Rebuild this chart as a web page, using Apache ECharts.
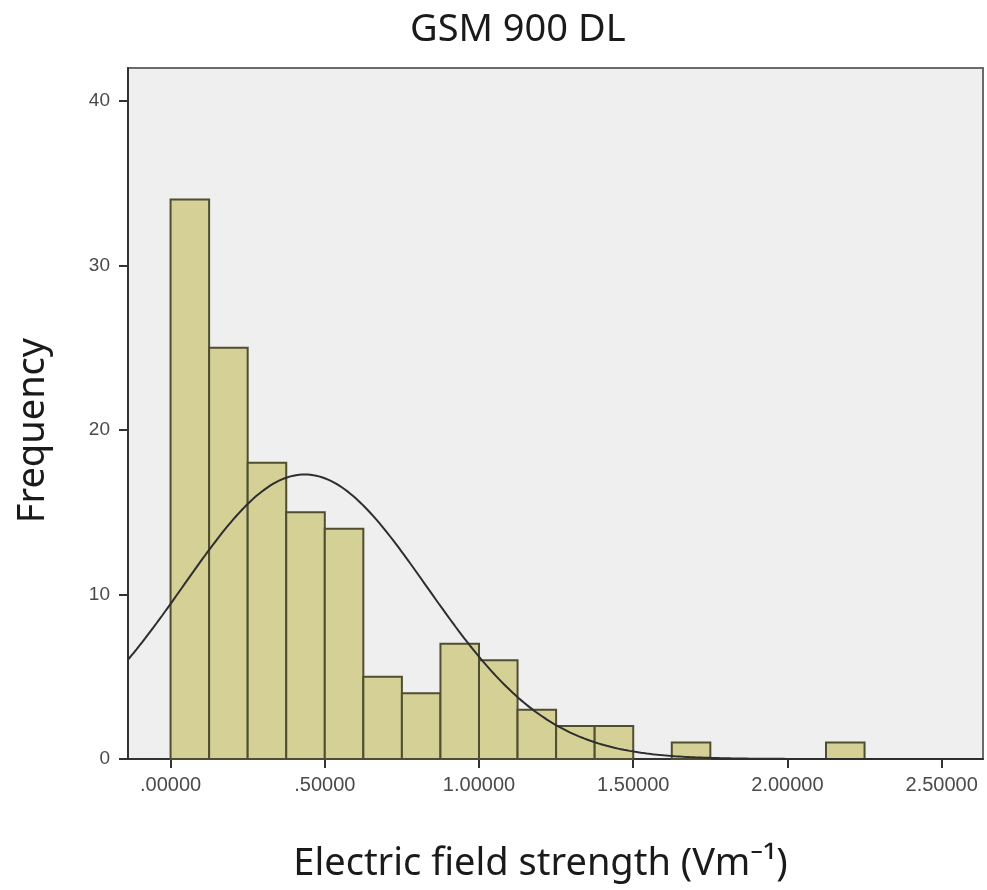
<!DOCTYPE html>
<html>
<head>
<meta charset="utf-8">
<script src="https://cdn.jsdelivr.net/npm/echarts@6/dist/echarts.min.js"></script>
<style>
  html, body { margin: 0; padding: 0; background: #ffffff; }
  #chart { width: 987px; height: 890px; }
</style>
</head>
<body>
<div id="chart"></div>
<script>
// Histogram of GSM 900 downlink field strength with a fitted normal curve
const binStarts = [0.000, 0.125, 0.250, 0.375, 0.500, 0.625, 0.750, 0.875, 1.000, 1.125, 1.250, 1.375, 1.500, 1.625, 1.750, 1.875, 2.000, 2.125];
const binEnds   = [0.125, 0.250, 0.375, 0.500, 0.625, 0.750, 0.875, 1.000, 1.125, 1.250, 1.375, 1.500, 1.625, 1.750, 1.875, 2.000, 2.125, 2.250];
const counts    = [34, 25, 18, 15, 14, 5, 4, 7, 6, 3, 2, 2, 0, 1, 0, 0, 0, 1];
const xTicks = [0, 0.5, 1.0, 1.5, 2.0, 2.5];
const yTicks = [0, 10, 20, 30, 40];

// Fitted normal distribution parameters
const fitMean = 0.435;
const fitSd = 0.395;
const totalN = counts.reduce((a, b) => a + b, 0);
const binWidth = 0.125;

const xMin = -0.138, xMax = 2.634;

const barData = [];
for (let i = 0; i < counts.length; i++) {
  if (counts[i] > 0) barData.push([binStarts[i], binEnds[i], counts[i]]);
}

// Normal density scaled to frequency per bin
const curveData = [];
const steps = 300;
for (let i = 0; i <= steps; i++) {
  const x = xMin + (xMax - xMin) * i / steps;
  const z = (x - fitMean) / fitSd;
  const y = totalN * binWidth * Math.exp(-0.5 * z * z) / (fitSd * Math.sqrt(2 * Math.PI));
  curveData.push([x, y]);
}

const chart = echarts.init(document.getElementById('chart'));
chart.setOption({
  animation: false,
  backgroundColor: '#ffffff',
  title: {
    text: 'GSM 900 DL',
    left: 405,
    top: 6,
    textStyle: { fontFamily: 'Noto Sans', fontSize: 38, fontWeight: 'normal', color: '#1a1a1a' }
  },
  grid: {
    left: 128, right: 4, top: 68, bottom: 131,
    show: true,
    backgroundColor: '#efefef',
    borderColor: '#6a6a6a',
    borderWidth: 2
  },
  xAxis: {
    type: 'value',
    min: xMin,
    max: xMax,
    name: 'Electric field strength (Vm\u207B\u00B9)',
    nameLocation: 'middle',
    nameGap: 86,
    nameTextStyle: { fontFamily: 'Noto Sans', fontSize: 38, color: '#1a1a1a', padding: [0, 30, 0, 0] },
    splitLine: { show: false },
    axisLine: { show: true, onZero: false, lineStyle: { color: '#333333', width: 2 } },
    axisTick: { show: true, length: 9, customValues: xTicks, lineStyle: { color: '#333333', width: 2 } },
    axisLabel: {
      customValues: xTicks,
      margin: 16,
      fontFamily: 'Liberation Sans',
      fontSize: 20,
      color: '#4a4a4a',
      formatter: v => v.toFixed(5).replace(/^0/, '')
    }
  },
  yAxis: {
    type: 'value',
    min: 0,
    max: 42,
    name: 'Frequency',
    nameLocation: 'middle',
    nameGap: 76,
    nameTextStyle: { fontFamily: 'Noto Sans', fontSize: 38, color: '#1a1a1a', padding: [0, 34, 0, 0] },
    splitLine: { show: false },
    axisLine: { show: true, onZero: false, lineStyle: { color: '#333333', width: 2 } },
    axisTick: { show: true, length: 9, customValues: yTicks, lineStyle: { color: '#333333', width: 2 } },
    axisLabel: {
      customValues: yTicks,
      margin: 18,
      fontFamily: 'Liberation Sans',
      fontSize: 19,
      color: '#4a4a4a'
    }
  },
  series: [
    {
      type: 'custom',
      data: barData,
      encode: { x: [0, 1], y: 2 },
      renderItem: function (params, api) {
        const topLeft = api.coord([api.value(0), api.value(2)]);
        const bottomRight = api.coord([api.value(1), 0]);
        return {
          type: 'rect',
          shape: {
            x: topLeft[0],
            y: topLeft[1],
            width: bottomRight[0] - topLeft[0],
            height: bottomRight[1] - topLeft[1]
          },
          style: { fill: '#d4d096', stroke: '#4f4e30', lineWidth: 2 }
        };
      },
      z: 2
    },
    {
      type: 'line',
      data: curveData,
      showSymbol: false,
      symbol: 'none',
      smooth: false,
      clip: true,
      lineStyle: { color: '#2e2e2e', width: 2 },
      z: 3
    }
  ]
});
</script>
</body>
</html>
